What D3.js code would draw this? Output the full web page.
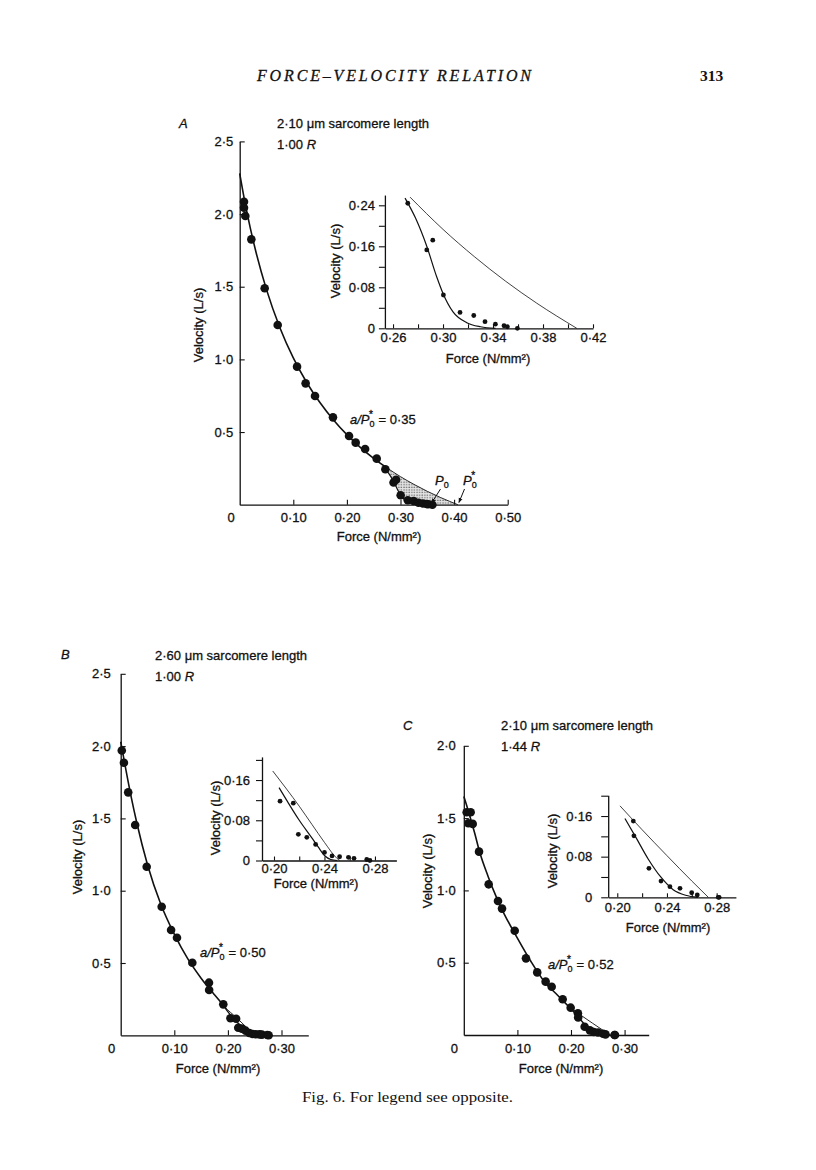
<!DOCTYPE html>
<html><head><meta charset="utf-8">
<script src="https://cdn.jsdelivr.net/npm/d3@7"></script>
<style>
body{margin:0;background:#fff}
text{font-family:"Liberation Sans",Arial,Helvetica,sans-serif;fill:#111}
text.serif{font-family:"Liberation Serif","Times New Roman",serif}
.sans{stroke:#111;stroke-width:0.3px}
</style>
</head><body>
<svg id="c" width="816" height="1170" xmlns="http://www.w3.org/2000/svg"></svg>
<script>
// ---------------- DATA ----------------
// Panel A (2.10 um, 1.00 R)
const A_dots = [[0.008,2.085],[0.008,2.044],[0.0105,1.987],[0.0217,1.826],[0.0466,1.489],[0.0709,1.237],[0.107,0.950],[0.123,0.835],[0.1405,0.748],[0.174,0.601],[0.204,0.473],[0.2164,0.427],[0.234,0.383],[0.2556,0.317]];
const A_insetDots = [[0.2718,0.244],[0.287,0.153],[0.2918,0.172],[0.3003,0.065],[0.3136,0.031],[0.3246,0.025],[0.3336,0.013],[0.3419,0.008],[0.3488,0.005],[0.3515,0.003],[0.3595,0.0]];
const A_curve = [[0,2.28],[0.01,2.077],[0.02,1.90],[0.03,1.744],[0.05,1.48],[0.075,1.218],[0.10,1.01],[0.125,0.841],[0.15,0.701],[0.175,0.583],[0.20,0.482],[0.225,0.395],[0.25,0.319],[0.2736,0.256]];
const A_ext = [[0.2736,0.256],[0.30,0.193],[0.325,0.140],[0.35,0.092],[0.375,0.049],[0.407,0]];
const A_low = [[0.2696,0.254],[0.278,0.215],[0.287,0.16],[0.295,0.10],[0.300,0.068],[0.308,0.032],[0.319,0.011],[0.33,0.003],[0.342,0]];
// Panel B (2.60 um, 1.00 R)
const B_dots = [[0.002,1.97],[0.006,1.885],[0.014,1.68],[0.027,1.454],[0.0485,1.166],[0.0765,0.889],[0.094,0.728],[0.105,0.675],[0.1336,0.502],[0.1647,0.364],[0.165,0.313],[0.1914,0.214]];
const B_insetDots = [[0.2048,0.118],[0.2153,0.114],[0.2193,0.052],[0.226,0.046],[0.233,0.032],[0.240,0.016],[0.246,0.009],[0.252,0.0075],[0.259,0.0064],[0.2634,0.0044],[0.2735,0.002],[0.276,0]];
const B_curve = [[0,2.03],[0.005,1.93],[0.01,1.83],[0.02,1.64],[0.03,1.47],[0.05,1.18],[0.075,0.905],[0.10,0.70],[0.125,0.53],[0.15,0.395],[0.175,0.28],[0.19,0.215]];
const B_ext = [[0.19,0.215],[0.199,0.178],[0.21,0.142],[0.22,0.108],[0.23,0.072],[0.24,0.036],[0.25,0.004],[0.252,0]];
const B_low = [[0.19,0.215],[0.197,0.178],[0.204,0.145],[0.21,0.12],[0.22,0.08],[0.23,0.045],[0.235,0.027],[0.24,0.01],[0.245,0.002],[0.25,0]];
// Panel C (2.10 um, 1.44 R)
const C_dots = [[0.0054,1.54],[0.0128,1.54],[0.0084,1.464],[0.0166,1.46],[0.0284,1.268],[0.0464,1.042],[0.0638,0.927],[0.0713,0.874],[0.095,0.721],[0.116,0.530],[0.137,0.433],[0.1527,0.369],[0.164,0.334],[0.1845,0.247],[0.1994,0.189]];
const C_insetDots = [[0.2129,0.150],[0.2134,0.121],[0.2255,0.057],[0.2352,0.032],[0.2424,0.021],[0.2505,0.0177],[0.2599,0.009],[0.2644,0.0045],[0.2813,0],[0.282,0]];
const C_curve = [[0,1.65],[0.01,1.53],[0.02,1.40],[0.03,1.26],[0.045,1.10],[0.06,0.96],[0.075,0.84],[0.10,0.67],[0.125,0.51],[0.15,0.37],[0.175,0.275],[0.195,0.2]];
const C_ext = [[0.195,0.2],[0.2022,0.18],[0.22,0.133],[0.24,0.082],[0.26,0.032],[0.2733,0]];
const C_low = [[0.195,0.2],[0.2062,0.155],[0.215,0.118],[0.225,0.075],[0.235,0.040],[0.245,0.015],[0.255,0.004],[0.265,0]];
// Ticks
const mainAXTicks = [0.1,0.2,0.3,0.4,0.5];
const mainAYTicks = [0.5,1.0,1.5,2.0,2.5];
const mainBXTicks = [0.1,0.2,0.3];
const mainBYTicks = [0.5,1.0,1.5,2.0,2.5];
const mainCXTicks = [0.1,0.2,0.3];
const mainCYTicks = [0.5,1.0,1.5,2.0];
const insetAXTicks = [0.26,0.28,0.30,0.32,0.34,0.36,0.38,0.40,0.42];
const insetAXLabels = [0.26,0.30,0.34,0.38,0.42];
const insetAYTicks = [0,0.04,0.08,0.12,0.16,0.20,0.24];
const insetAYLabels = [0,0.08,0.16,0.24];
const insetBCXTicks = [0.20,0.22,0.24,0.26,0.28];
const insetBCXLabels = [0.20,0.24,0.28];
const insetBCYTicks = [0,0.04,0.08,0.12,0.16,0.20];
const insetBCYLabels = [0,0.08,0.16];
// Texts
const headerTitle = "FORCE–VELOCITY RELATION";
const pageNumber = "313";
const caption = "Fig. 6. For legend see opposite.";
const xLabel = "Force (N/mm²)";
const yLabel = "Velocity (L/s)";

// ---------------- DRAW ----------------
const svg = d3.select('#c');
svg.append('rect').attr('width',816).attr('height',1170).attr('fill','#fff');
const defs = svg.append('defs');
const pat = defs.append('pattern').attr('id','stip').attr('width',2.6).attr('height',2.6).attr('patternUnits','userSpaceOnUse');
pat.append('rect').attr('width',2.6).attr('height',2.6).attr('fill','#e4e4e4');
pat.append('circle').attr('cx',1).attr('cy',1).attr('r',0.65).attr('fill','#444');
const mk = defs.append('marker').attr('id','arr').attr('viewBox','0 0 10 10').attr('refX',9).attr('refY',5)
  .attr('markerWidth',5).attr('markerHeight',5).attr('orient','auto');
mk.append('path').attr('d','M0,1 L10,5 L0,9 Z').attr('fill','#111');

const fmt = (p) => d => d===0 ? '0' : d3.format('.'+p+'f')(d).replace('.','·');
const FS = 13;

function drawAxes(o){
  const g = svg.append('g');
  const xa = d3.axisBottom(o.x).tickValues(o.xTicks).tickSizeInner(-o.xTickLen).tickSizeOuter(0)
    .tickPadding(o.xPad).tickFormat(d => o.xLabels.some(v=>Math.abs(v-d)<1e-9) ? fmt(2)(d) : '');
  const gx = g.append('g').attr('transform',`translate(0,${o.y.range()[0]})`).call(xa);
  const ya = d3.axisLeft(o.y).tickValues(o.yTicks).tickSizeInner(o.yTickLen).tickSizeOuter(0)
    .tickPadding(o.yPad).tickFormat(d => o.yLabels.some(v=>Math.abs(v-d)<1e-9) ? fmt(o.yPrec)(d) : '');
  const gy = g.append('g').attr('transform',`translate(${o.x.range()[0]},0)`).call(ya);
  [gx,gy].forEach(a=>{
    a.selectAll('path.domain').attr('stroke','#111').attr('stroke-width',1.3);
    a.selectAll('.tick line').attr('stroke','#111').attr('stroke-width',1.1);
    a.selectAll('text').attr('font-size',FS).attr('fill','#111').attr('class','sans');
    a.attr('font-family',null).attr('font-size',null);
  });
  g.append('text').attr('class','sans').attr('x',o.xlx).attr('y',o.xly).attr('text-anchor','middle').attr('font-size',FS).text(xLabel);
  g.append('text').attr('class','sans').attr('transform',`translate(${o.ylx},${o.yly}) rotate(-90)`).attr('text-anchor','middle').attr('font-size',FS).text(yLabel);
  return g;
}

function lineGen(x,y){ return d3.line().x(d=>x(d[0])).y(d=>y(d[1])).curve(d3.curveMonotoneX); }
function drawLine(data,x,y,w){
  svg.append('path').attr('d',lineGen(x,y)(data)).attr('fill','none').attr('stroke','#111').attr('stroke-width',w);
}
function drawDots(data,x,y,r){
  svg.append('g').selectAll('circle').data(data).join('circle')
    .attr('cx',d=>x(d[0])).attr('cy',d=>y(d[1])).attr('r',r).attr('fill','#111');
}
function addText(x,y,str,opts={}){
  const t = svg.append('text').attr('class','sans').attr('x',x).attr('y',y).attr('font-size',opts.size||FS).text(str);
  if(opts.italic) t.attr('font-style','italic');
  if(opts.anchor) t.attr('text-anchor',opts.anchor);
  return t;
}
function panelTitle(x,y1,y2,len,rel){
  svg.append('text').attr('class','sans').attr('x',x).attr('y',y1).attr('font-size',FS).text(len+' ')
    .append('tspan').text('μm sarcomere length');
  const t = svg.append('text').attr('class','sans').attr('x',x).attr('y',y2).attr('font-size',FS).text(rel+' ');
  t.append('tspan').attr('font-style','italic').text('R');
}
function aLabel(x,y,val){
  const t = svg.append('text').attr('class','sans').attr('x',x).attr('y',y).attr('font-size',FS);
  t.append('tspan').attr('font-style','italic').text('a/P');
  t.append('tspan').attr('font-size',9).attr('dy',3).text('0');
  t.append('tspan').attr('font-size',10).attr('dx',-5.5).attr('dy',-9).text('*');
  t.append('tspan').attr('dy',6).attr('dx',2).text(' = '+val);
}

// Header & caption (serif)
svg.append('text').attr('class','serif').attr('x',257).attr('y',81)
  .attr('font-style','italic').attr('font-size',16).attr('textLength',274).attr('lengthAdjust','spacing')
  .style('stroke','#111').style('stroke-width','0.3px').text(headerTitle);
svg.append('text').attr('class','serif').attr('x',700).attr('y',81)
  .attr('font-weight','bold').attr('font-size',15.5).text(pageNumber);
svg.append('text').attr('class','serif').attr('x',302).attr('y',1102)
  .attr('font-size',14.5).attr('textLength',211).attr('lengthAdjust','spacingAndGlyphs').text(caption);

// ---------- Panel A ----------
{
  const x = d3.scaleLinear().domain([0,0.5]).range([239.7,507.7]);
  const y = d3.scaleLinear().domain([0,2.5]).range([504.7,141.4]);
  const lg = lineGen(x,y);
  const lowClosed = A_low.concat([[0.407,0]]).reverse();
  const dPath = lg(A_ext) + 'L' + lg(lowClosed).slice(1) + 'Z';
  svg.append('path').attr('d',dPath).attr('fill','url(#stip)').attr('stroke','none');
  drawAxes({x,y,xTicks:mainAXTicks,xLabels:mainAXTicks,yTicks:mainAYTicks,yLabels:mainAYTicks,yPrec:1,
    xTickLen:5,yTickLen:-5,xPad:8,yPad:6.5,xlx:379,xly:541,ylx:203,yly:325});
  addText(x(0)-8.5,521.7,'0',{anchor:'middle'});
  drawLine(A_curve,x,y,1.6);
  drawLine(A_ext,x,y,0.9);
  drawLine(A_low,x,y,1.2);
  drawDots(A_dots.concat(A_insetDots),x,y,4.3);
  addText(179,128,'A',{italic:true});
  panelTitle(277,128,148.5,'2·10','1·00');
  aLabel(350,424,'0·35');
  const p0 = svg.append('text').attr('class','sans').attr('x',435).attr('y',485).attr('font-size',FS);
  p0.append('tspan').attr('font-style','italic').text('P');
  p0.append('tspan').attr('font-size',9).attr('dy',3).text('0');
  const p1 = svg.append('text').attr('class','sans').attr('x',463).attr('y',485).attr('font-size',FS);
  p1.append('tspan').attr('font-style','italic').text('P');
  p1.append('tspan').attr('font-size',9).attr('dy',3).text('0');
  p1.append('tspan').attr('font-size',10).attr('dx',-5.5).attr('dy',-9).text('*');
  svg.append('line').attr('x1',440.5).attr('y1',489).attr('x2',x(0.358)).attr('y2',503).attr('stroke','#111').attr('stroke-width',1).attr('marker-end','url(#arr)');
  svg.append('line').attr('x1',464.5).attr('y1',489).attr('x2',x(0.409)).attr('y2',502.5).attr('stroke','#111').attr('stroke-width',1).attr('marker-end','url(#arr)');
}
// ---------- Inset A ----------
{
  const x = d3.scaleLinear().domain([0.2535,0.42]).range([384.9,593]);
  const y = d3.scaleLinear().domain([0,0.26]).range([328.3,195.05]);
  drawAxes({x,y,xTicks:insetAXTicks,xLabels:insetAXLabels,yTicks:insetAYTicks,yLabels:insetAYLabels,yPrec:2,
    xTickLen:4,yTickLen:6,xPad:4,yPad:4,xlx:488,xly:363,ylx:340,yly:261});
  drawLine(A_ext,x,y,0.8);
  drawLine(A_low,x,y,1.2);
  drawDots(A_insetDots,x,y,2.4);
}
// ---------- Panel B ----------
{
  const x = d3.scaleLinear().domain([0,0.35]).range([120.7,308.3]);
  const y = d3.scaleLinear().domain([0,2.5]).range([1035.3,673.8]);
  drawAxes({x,y,xTicks:mainBXTicks,xLabels:mainBXTicks,yTicks:mainBYTicks,yLabels:mainBYTicks,yPrec:1,
    xTickLen:5,yTickLen:-5,xPad:8.5,yPad:10,xlx:218,xly:1073,ylx:82,yly:857});
  addText(x(0)-9,1053,'0',{anchor:'middle'});
  drawLine(B_curve,x,y,1.6);
  drawLine(B_ext,x,y,0.9);
  drawLine(B_low,x,y,1.4);
  drawDots(B_dots.concat(B_insetDots),x,y,4.3);
  addText(61,659,'B',{italic:true});
  panelTitle(155,659.5,681,'2·60','1·00');
  aLabel(200,957,'0·50');
}
// ---------- Inset B ----------
{
  const x = d3.scaleLinear().domain([0.1905,0.297]).range([262,396.4]);
  const y = d3.scaleLinear().domain([0,0.206]).range([860.5,756.9]);
  drawAxes({x,y,xTicks:insetBCXTicks,xLabels:insetBCXLabels,yTicks:insetBCYTicks,yLabels:insetBCYLabels,yPrec:2,
    xTickLen:4,yTickLen:6,xPad:3.5,yPad:6,xlx:316,xly:888,ylx:220,yly:818});
  drawLine(B_ext.filter(d=>d[0]>=0.199),x,y,0.8);
  drawLine(B_low.filter(d=>d[0]>=0.204),x,y,1.2);
  drawDots(B_insetDots,x,y,2.4);
}
// ---------- Panel C ----------
{
  const x = d3.scaleLinear().domain([0,0.345]).range([463.8,648.7]);
  const y = d3.scaleLinear().domain([0,2.0]).range([1035,745.8]);
  drawAxes({x,y,xTicks:mainCXTicks,xLabels:mainCXTicks,yTicks:mainCYTicks,yLabels:mainCYTicks,yPrec:1,
    xTickLen:5,yTickLen:-5,xPad:8.3,yPad:8,xlx:561,xly:1073,ylx:432,yly:871});
  addText(x(0)-9.5,1052.5,'0',{anchor:'middle'});
  drawLine(C_curve,x,y,1.6);
  drawLine(C_ext,x,y,0.9);
  drawLine(C_low,x,y,1.4);
  drawDots(C_dots.concat(C_insetDots),x,y,4.3);
  addText(403,730,'C',{italic:true});
  panelTitle(501,730,751,'2·10','1·44');
  aLabel(548,969,'0·52');
}
// ---------- Inset C ----------
{
  const x = d3.scaleLinear().domain([0.1927,0.2955]).range([608.2,735.9]);
  const y = d3.scaleLinear().domain([0,0.201]).range([897.3,795.2]);
  drawAxes({x,y,xTicks:insetBCXTicks,xLabels:insetBCXLabels,yTicks:insetBCYTicks,yLabels:insetBCYLabels,yPrec:2,
    xTickLen:4,yTickLen:7,xPad:5,yPad:9,xlx:668,xly:932,ylx:557,yly:851});
  drawLine(C_ext.filter(d=>d[0]>=0.2022),x,y,0.8);
  drawLine(C_low.filter(d=>d[0]>=0.2062),x,y,1.2);
  drawDots(C_insetDots,x,y,2.4);
}
</script>
</body></html>
